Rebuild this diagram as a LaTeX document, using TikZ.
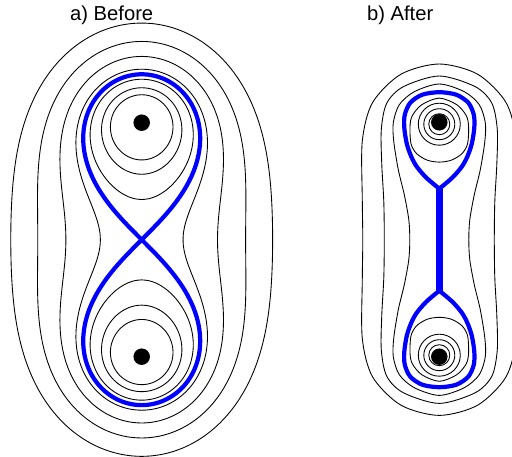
\documentclass[tikz,border=0pt]{standalone}
\usepackage{fontspec}
\setmainfont{Liberation Sans}
\usepackage{xcolor}
\definecolor{ink}{HTML}{000000}
\definecolor{sepblue}{HTML}{0000FF}
\tikzset{
  levelline/.style={draw=ink,line width=0.5pt},
  sepline/.style={draw=sepblue,line width=2.4pt,line join=round},
  sepbar/.style={draw=sepblue,line width=3.8pt},
  chargedot/.style={fill=ink,circle,inner sep=0pt,minimum size=0.33cm},
  paneltitle/.style={font=\fontsize{11.5}{13}\selectfont,anchor=base,inner sep=0pt}
}

\begin{document}
\begin{tikzpicture}[x=0.02cm,y=-0.02cm,
  declare function={
    ovalr(\t,\q)=sqrt(cos(2*\t)+sqrt(\q*\q-sin(2*\t)*sin(2*\t)));
    loopr(\t,\q)=sqrt(sqrt(1+2*\q*cos(\t)+\q*\q));
    loopa(\t,\q)=atan2(\q*sin(\t),1+\q*cos(\t))/2;
  }]
  \useasboundingbox (0,0) rectangle (512,457);
  \clip (0,0) rectangle (512,457);

  \node[paneltitle] (ttlA) at (111.7,20.7) {a) Before};
  \node[paneltitle] (ttlB) at (400.2,20.7) {b) After};

  % a) level sets r1*r2 = const
  \begin{scope}[shift={(141.7,239.7)},x=2.34cm,y=2.34cm]
    \foreach \lev/\sq in {2.43/0.936,1.873/0.951,1.455/0.961,1.125/1}{
      \draw[levelline] plot[domain=0:357,samples=120,smooth cycle]
        ({\sq*ovalr(\x,\lev)*sin(\x)},{ovalr(\x,\lev)*cos(\x)});
    }
    \foreach \lev in {0.882,0.687,0.535}{
      \draw[levelline] plot[domain=-180:177,samples=120,smooth cycle]
        ({loopr(\x,\lev)*sin(loopa(\x,\lev))},{loopr(\x,\lev)*cos(loopa(\x,\lev))});
      \draw[levelline] plot[domain=-180:177,samples=120,smooth cycle]
        ({-loopr(\x,\lev)*sin(loopa(\x,\lev))},{-loopr(\x,\lev)*cos(loopa(\x,\lev))});
    }
    \draw[sepline] plot[domain=0:358,samples=180,smooth cycle]
      ({1.4142*sin(\x)*cos(\x)/(1+sin(\x)*sin(\x))},{1.4142*cos(\x)/(1+sin(\x)*sin(\x))});
  \end{scope}
  \node[chargedot] (qa1) at (141.7,122.7) {};
  \node[chargedot] (qa2) at (141.7,356.7) {};

  % b) after the merge
  \begin{scope}[shift={(439.3,239.7)}]
    \draw[levelline] plot[smooth cycle] coordinates {(0,-175.7) (38.5,-165.4) (66.7,-137.2)
      (77,-98.7) (77,-40) (76.5,0) (77,40) (77,98.7) (66.7,137.2) (38.5,165.4) (0,175.7)
      (-38.5,165.4) (-66.7,137.2) (-77,98.7) (-77,40) (-76.5,0) (-77,-40) (-77,-98.7)
      (-66.7,-137.2) (-38.5,-165.4)};
    \draw[levelline] plot[smooth cycle] coordinates {(0,-163.7) (36,-153) (52.6,-136.4)
      (58,-110) (57.5,-75) (55.5,-38) (55,0) (55.5,38) (57.5,75) (58,110) (52.6,136.4)
      (36,153) (0,163.7) (-36,153) (-52.6,136.4) (-58,110) (-57.5,75) (-55.5,38) (-55,0)
      (-55.5,-38) (-57.5,-75) (-58,-110) (-52.6,-136.4) (-36,-153)};
    \draw[levelline] plot[smooth cycle] coordinates {(0,-155.7) (25,-148) (40,-135)
      (46,-117) (45.5,-98) (41,-70) (35,-45) (30.5,-20) (29.5,0) (30.5,20) (35,45)
      (41,70) (45.5,98) (46,117) (40,135) (25,148) (0,155.7) (-25,148) (-40,135)
      (-46,117) (-45.5,98) (-41,70) (-35,45) (-30.5,20) (-29.5,0) (-30.5,-20) (-35,-45)
      (-41,-70) (-45.5,-98) (-46,-117) (-40,-135) (-25,-148)};
    \foreach \dy/\fl in {-117/1,117/-1}{
      \begin{scope}[shift={(0,\dy)},yscale=\fl]
        \foreach \r in {10.5,15.5,21}
          \draw[levelline] (0,1.5) circle[radius=\r];
        \draw[levelline] plot[smooth cycle] coordinates {(0,-24.6) (17.5,-18) (27,-7)
          (29.3,4) (28.3,21) (22.6,31) (12,37.5) (0,39.4) (-12,37.5) (-22.6,31)
          (-28.3,21) (-29.3,4) (-27,-7) (-17.5,-18)};
        \draw[sepline] plot[smooth] coordinates {(0,66) (-13,55) (-22.5,44) (-28,34)
          (-32.5,21) (-35,5) (-34.5,-8) (-29,-20) (-17,-28) (0,-30.5) (17,-28)
          (29,-20) (34.5,-8) (35,5) (32.5,21) (28,34) (22.5,44) (13,55) (0,66)};
      \end{scope}
    }
    \draw[sepbar] (0,-51) -- (0,51);
  \end{scope}
  \node[chargedot] (qb1) at (439.3,122.3) {};
  \node[chargedot] (qb2) at (439.3,356.7) {};
\end{tikzpicture}
\end{document}
